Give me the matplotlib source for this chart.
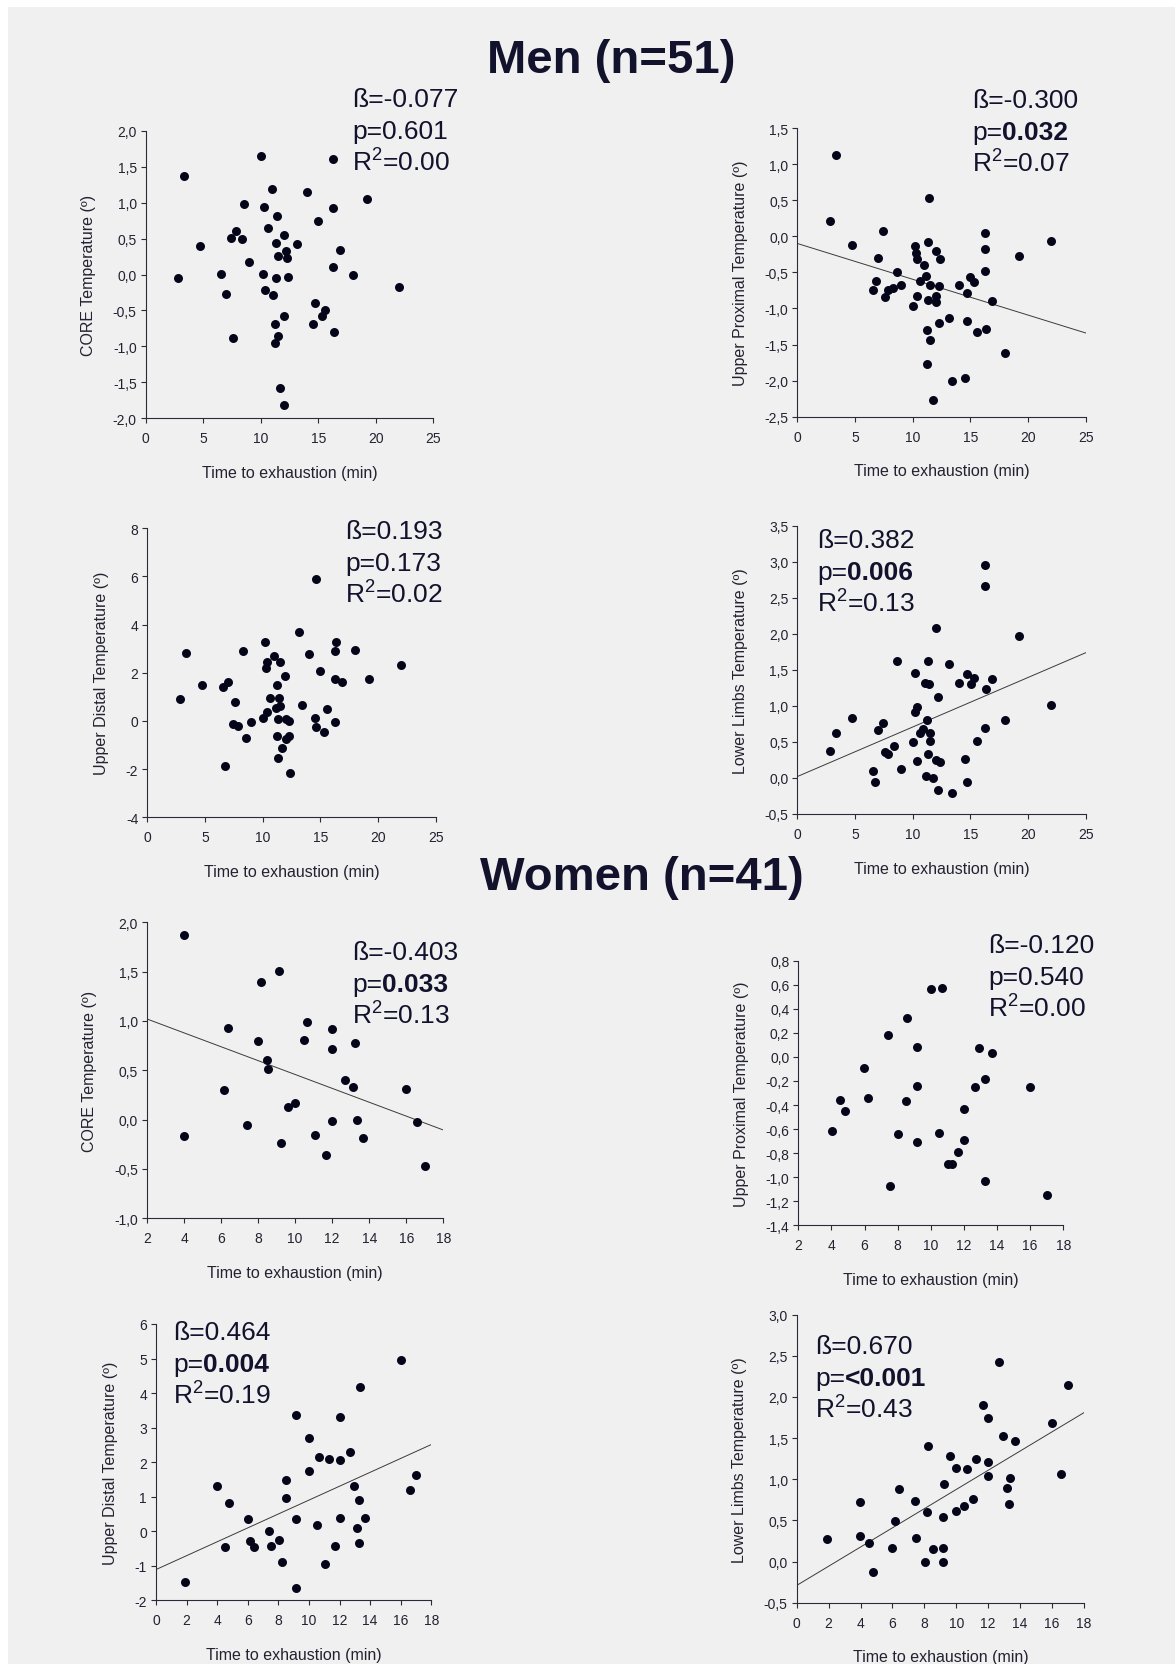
import matplotlib
matplotlib.use("Agg")
import matplotlib.pyplot as plt
from matplotlib.ticker import FuncFormatter, MultipleLocator
from matplotlib.patches import Rectangle

plt.rcParams['font.family'] = ['Liberation Sans', 'DejaVu Sans']
plt.rcParams['axes.unicode_minus'] = False
plt.rcParams['mathtext.fontset'] = 'custom'
plt.rcParams['mathtext.default'] = 'regular'

W, H = 1175, 1665
TXT = '#12122c'
AX = '#2a2a3a'
DOT = '#05051a'

# ---- data ----
men_core_x = [2.84, 3.33, 4.72, 6.58, 6.98, 7.42, 7.82, 7.59, 8.34, 8.57, 8.98, 9.99, 10.17, 10.26,
              10.34, 10.63, 11.01, 11.09, 11.21, 11.27, 11.33, 11.36, 11.38, 11.50, 11.53, 11.70,
              12.02, 12.02, 12.02, 12.22, 12.31, 12.37, 13.18, 14.02, 14.69, 14.51, 15.01, 15.35,
              15.61, 16.28, 16.28, 16.28, 16.37, 16.86, 18.05, 19.21, 22.05]
men_core_y = [-0.05, 1.37, 0.40, 0.01, -0.27, 0.51, 0.60, -0.88, 0.49, 0.98, 0.18, 1.65, 0.01, 0.94,
              -0.22, 0.64, 1.19, -0.29, -0.95, -0.69, 0.44, -0.05, 0.82, 0.26, -0.85, -1.58,
              0.55, -0.58, -1.81, 0.33, 0.23, -0.03, 0.42, 1.15, -0.40, -0.69, 0.75, -0.58,
              -0.49, 1.61, 0.93, 0.11, -0.80, 0.34, 0.00, 1.05, -0.17]

men_up_x = [2.86, 3.32, 4.77, 6.56, 6.79, 7.02, 7.43, 7.60, 7.83, 8.29, 8.61, 9.02, 10.03, 10.20,
            10.26, 10.38, 10.38, 10.64, 11.01, 11.13, 11.24, 11.27, 11.33, 11.36, 11.39, 11.50,
            11.53, 11.73, 11.99, 12.02, 12.02, 12.25, 12.25, 12.34, 13.12, 13.44, 14.02, 14.51,
            14.68, 14.68, 15.00, 15.35, 15.58, 16.27, 16.27, 16.27, 16.36, 16.88, 18.01, 19.19, 21.99]
men_up_y = [0.21, 1.13, -0.12, -0.75, -0.62, -0.30, 0.07, -0.84, -0.74, -0.71, -0.50, -0.67, -0.97, -0.14,
            -0.23, -0.31, -0.83, -0.62, -0.40, -0.55, -1.30, -1.77, -0.88, -0.08, 0.53, -0.67,
            -1.44, -2.27, -0.83, -0.91, -0.21, -0.69, -1.20, -0.31, -1.13, -2.00, -0.68, -1.96,
            -0.79, -1.17, -0.56, -0.63, -1.32, 0.05, -0.17, -0.48, -1.29, -0.90, -1.62, -0.27, -0.06]
men_up_fit = [-0.10, -1.34]

men_ud_x = [2.86, 3.35, 4.77, 6.59, 7.02, 6.73, 7.57, 7.40, 7.83, 8.32, 8.58, 8.99, 10.00, 10.17,
            10.26, 10.35, 10.35, 10.61, 11.01, 11.16, 11.21, 11.24, 11.30, 11.33, 11.39, 11.47,
            11.53, 11.68, 11.97, 11.99, 12.05, 12.25, 12.31, 12.34, 13.12, 13.44, 13.99, 14.51,
            14.65, 15.00, 15.35, 15.58, 16.27, 16.33, 16.27, 16.27, 16.88, 17.98, 19.19, 21.99, 14.65]
men_ud_y = [0.93, 2.81, 1.48, 1.43, 1.61, -1.88, 0.78, -0.12, -0.22, 2.92, -0.69, -0.03, 0.12, 3.27,
            2.21, 2.46, 0.36, 0.94, 2.71, 0.53, -0.64, 1.49, 0.10, -1.54, 0.94, 2.45,
            0.62, -1.11, 1.88, 0.08, -0.73, 0.00, -0.62, -2.17, 3.71, 0.65, 2.77, 0.11,
            -0.24, 2.06, -0.46, 0.50, 2.91, 3.28, 1.73, -0.04, 1.62, 2.95, 1.73, 2.33, 5.88]

men_ll_x = [2.86, 3.32, 4.77, 6.59, 6.76, 7.02, 7.43, 7.60, 7.86, 8.35, 8.61, 8.99, 10.03, 10.20,
            10.23, 10.38, 10.38, 10.64, 10.93, 11.04, 11.18, 11.27, 11.33, 11.36, 11.42, 11.50,
            11.50, 11.73, 11.99, 11.99, 12.22, 12.22, 12.34, 13.15, 13.44, 14.02, 14.51, 14.68,
            14.68, 15.03, 15.35, 15.58, 16.27, 16.27, 16.33, 16.27, 16.88, 18.01, 19.19, 21.99]
men_ll_y = [0.375, 0.625, 0.84, 0.10, -0.06, 0.66, 0.77, 0.36, 0.33, 0.44, 1.63, 0.13, 0.50, 1.46,
            0.92, 0.98, 0.23, 0.62, 0.68, 1.32, 0.03, 0.80, 0.34, 1.63, 1.30, 0.63,
            0.52, 0.00, 2.09, 0.25, -0.17, 1.12, 0.22, 1.59, -0.21, 1.32, 0.26, 1.44,
            -0.05, 1.31, 1.39, 0.52, 2.96, 2.66, 1.24, 0.70, 1.37, 0.80, 1.97, 1.01]
men_ll_fit = [0.02, 1.74]

women_core_x = [3.98, 3.98, 6.14, 6.39, 7.40, 7.98, 8.16, 8.50, 8.52, 9.15, 9.24, 9.61, 9.99, 10.48,
                10.66, 11.07, 11.67, 12.01, 12.01, 12.01, 12.69, 13.14, 13.25, 13.34, 13.66, 16.00,
                16.60, 16.99]
women_core_y = [1.87, -0.17, 0.30, 0.93, -0.05, 0.80, 1.39, 0.60, 0.51, 1.51, -0.24, 0.13, 0.17, 0.81,
                0.99, -0.16, -0.36, 0.92, 0.72, -0.01, 0.40, 0.33, 0.78, 0.00, -0.19, 0.31,
                -0.02, -0.47]
women_core_fit = [1.02, -0.105]

women_up_x = [4.01, 4.52, 4.80, 5.98, 6.19, 7.41, 7.51, 8.02, 8.50, 8.54, 9.16, 9.16, 9.16, 9.99,
              10.49, 10.67, 11.06, 11.30, 11.66, 12.00, 12.00, 12.69, 12.93, 13.25, 13.27, 13.69,
              16.00, 16.99]
women_up_y = [-0.62, -0.36, -0.45, -0.09, -0.34, 0.185, -1.07, -0.64, -0.37, 0.32, 0.08, -0.24, -0.71, 0.565,
              -0.63, 0.57, -0.89, -0.89, -0.79, -0.43, -0.69, -0.25, 0.07, -0.18, -1.03, 0.03,
              -0.25, -1.15]

women_ud_x = [1.92, 3.99, 4.49, 4.79, 6.01, 6.17, 6.41, 7.41, 7.50, 8.02, 8.24, 8.52, 8.52, 9.17,
              9.17, 9.17, 9.98, 9.98, 10.50, 10.68, 11.07, 11.29, 11.68, 12.01, 12.01, 12.01,
              12.70, 12.92, 13.16, 13.27, 13.27, 13.36, 13.68, 15.99, 16.60, 17.00]
women_ud_y = [-1.46, 1.32, -0.46, 0.82, 0.34, -0.29, -0.45, 0.01, -0.42, -0.24, -0.89, 1.48, 0.95, 3.36,
              0.35, -1.64, 2.70, 1.73, 0.19, 2.14, -0.95, 2.10, -0.42, 3.31, 2.07, 0.38,
              2.29, 1.31, 0.10, 0.91, -0.33, 4.19, 0.39, 4.95, 1.18, 1.63]
women_ud_fit = [-1.11, 2.51]

women_ll_x = [1.88, 3.99, 3.99, 4.51, 4.80, 5.99, 6.18, 6.41, 7.41, 7.50, 8.02, 8.16, 8.25, 8.54,
              9.17, 9.19, 9.19, 9.23, 9.63, 10.00, 10.00, 10.48, 10.67, 11.07, 11.25, 11.65,
              12.01, 12.01, 12.01, 12.70, 12.93, 13.15, 13.28, 13.34, 13.66, 15.97, 16.58, 16.98]
women_ll_y = [0.27, 0.72, 0.31, 0.23, -0.13, 0.16, 0.49, 0.88, 0.74, 0.29, -0.01, 0.60, 1.41, 0.15,
              0.16, 0.54, -0.01, 0.94, 1.28, 1.14, 0.61, 0.68, 1.12, 0.76, 1.25, 1.90,
              1.75, 1.21, 1.04, 2.43, 1.52, 0.89, 0.70, 1.01, 1.46, 1.68, 1.06, 2.14]
women_ll_fit = [-0.29, 1.81]

# stats: beta, p, p is significant (bold), R2
stats = [
    ('-0.077', '0.601', False, '0.00'),
    ('-0.300', '0.032', True, '0.07'),
    ('0.193', '0.173', False, '0.02'),
    ('0.382', '0.006', True, '0.13'),
    ('-0.403', '0.033', True, '0.13'),
    ('-0.120', '0.540', False, '0.00'),
    ('0.464', '0.004', True, '0.19'),
    ('0.670', '<0.001', True, '0.43'),
]

ylabels = ['CORE Temperature (º)', 'Upper Proximal Temperature (º)',
           'Upper Distal Temperature (º)', 'Lower Limbs Temperature (º)'] * 2

# ---- layout (pixel boxes: left, top, right, bottom) ----
panels = [
    dict(box=(145.7, 131.7, 433.3, 419.3), x=men_core_x, y=men_core_y, fit=None,
         xlim=(0, 25), xstep=5, ylim=(-2, 2), ystep=0.5, dec=1, txt=(352, 107)),
    dict(box=(797.3, 129, 1085.7, 417.7), x=men_up_x, y=men_up_y, fit=men_up_fit,
         xlim=(0, 25), xstep=5, ylim=(-2.5, 1.5), ystep=0.5, dec=1, txt=(972, 108)),
    dict(box=(147.3, 529.3, 435.7, 818.3), x=men_ud_x, y=men_ud_y, fit=None,
         xlim=(0, 25), xstep=5, ylim=(-4, 8), ystep=2, dec=0, txt=(345, 539)),
    dict(box=(797.3, 527, 1085.7, 815), x=men_ll_x, y=men_ll_y, fit=men_ll_fit,
         xlim=(0, 25), xstep=5, ylim=(-0.5, 3.5), ystep=0.5, dec=1, txt=(817, 548)),
    dict(box=(147, 923.3, 443.3, 1219.3), x=women_core_x, y=women_core_y, fit=women_core_fit,
         xlim=(2, 18), xstep=2, ylim=(-1, 2), ystep=0.5, dec=1, txt=(352, 960)),
    dict(box=(798.3, 961.7, 1063.3, 1226.3), x=women_up_x, y=women_up_y, fit=None,
         xlim=(2, 18), xstep=2, ylim=(-1.4, 0.8), ystep=0.2, dec=1, txt=(988, 953)),
    dict(box=(156, 1325, 431.3, 1601.3), x=women_ud_x, y=women_ud_y, fit=women_ud_fit,
         xlim=(0, 18), xstep=2, ylim=(-2, 6), ystep=1, dec=0, txt=(173, 1340)),
    dict(box=(796.7, 1315.7, 1084, 1603.7), x=women_ll_x, y=women_ll_y, fit=women_ll_fit,
         xlim=(0, 18), xstep=2, ylim=(-0.5, 3), ystep=0.5, dec=1, txt=(815, 1354)),
]


def fx(px):
    return px / W


def fy(py):
    return 1 - py / H


def comma_fmt(dec):
    return FuncFormatter(lambda v, pos: f'{v:.{dec}f}'.replace('.', ','))


fig = plt.figure(figsize=(W / 100, H / 100), dpi=100, facecolor='white')
fig.add_artist(Rectangle((fx(8), 0), 1, fy(8), transform=fig.transFigure,
                         facecolor='#f0f0f1', edgecolor='none', zorder=-10))

fig.text(fx(611), fy(73), 'Men (n=51)', ha='center', va='baseline', fontsize=34,
         fontweight='bold', color=TXT)
fig.text(fx(642), fy(890), 'Women (n=41)', ha='center', va='baseline', fontsize=34,
         fontweight='bold', color=TXT)

for i, p in enumerate(panels):
    l, t, r, b = p['box']
    ax = fig.add_axes([fx(l), fy(b), (r - l) / W, (b - t) / H])
    ax.set_facecolor('none')
    ax.scatter(p['x'], p['y'], s=42, color=DOT, zorder=3, clip_on=False, linewidths=0)
    if p['fit'] is not None:
        ax.plot(p['xlim'], p['fit'], color='#3a3a3a', lw=0.7, zorder=2)
    ax.set_xlim(p['xlim'])
    ax.set_ylim(p['ylim'])
    ax.xaxis.set_major_locator(MultipleLocator(p['xstep']))
    ax.yaxis.set_major_locator(MultipleLocator(p['ystep']))
    ax.yaxis.set_major_formatter(comma_fmt(p['dec']))
    for s in ['top', 'right']:
        ax.spines[s].set_visible(False)
    for s in ['left', 'bottom']:
        ax.spines[s].set_color(AX)
        ax.spines[s].set_linewidth(0.8)
    ax.tick_params(axis='both', direction='out', length=3.5, width=0.8, color=AX,
                   labelsize=10, labelcolor='#222230')
    ax.tick_params(axis='x', pad=6)
    ax.tick_params(axis='y', pad=3)
    ax.set_ylabel(ylabels[i], fontsize=11.5, color='#222230', labelpad=12)
    ax.set_xlabel('Time to exhaustion (min)', fontsize=11.5, color='#222230', labelpad=14)

    beta, pval, bold, r2 = stats[i]
    x0, y0 = p['txt']
    fig.text(fx(x0), fy(y0), 'ß=' + beta, fontsize=19, color=TXT, va='baseline')
    if bold:
        tp = fig.text(fx(x0), fy(y0 + 32), 'p=', fontsize=19, color=TXT, va='baseline')
        ax.annotate(pval, xy=(1, 0), xycoords=tp, ha='left', va='bottom', fontsize=19,
                    fontweight='bold', color=TXT, annotation_clip=False)
    else:
        fig.text(fx(x0), fy(y0 + 32), 'p=' + pval, fontsize=19, color=TXT, va='baseline')
    fig.text(fx(x0), fy(y0 + 65), 'R$^{2}$=' + r2, fontsize=19, color=TXT, va='baseline')

fig.savefig('out.png', dpi=100, facecolor=fig.get_facecolor())
